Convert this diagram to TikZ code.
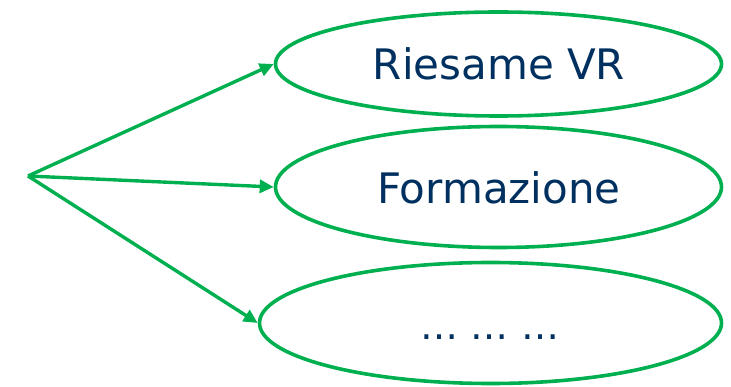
\documentclass[tikz,border=0pt]{standalone}
\usepackage{fontspec}
\setmainfont{DejaVu Sans}
\usetikzlibrary{shapes.geometric,arrows.meta}
\definecolor{lgreen}{HTML}{00B050}
\definecolor{navy}{HTML}{00305F}
\begin{document}
\begin{tikzpicture}[x=1pt,y=-1pt,
  oval/.style={ellipse,draw=lgreen,line width=3.6pt,inner sep=0pt},
  lbl/.style={text=navy,font=\fontsize{42}{50}\selectfont,inner sep=0pt},
  conn/.style={draw=lgreen,line width=3.4pt,-{Triangle[length=14pt,width=13pt]}}]
\useasboundingbox (0,0) rectangle (731,387);
\node[oval,minimum width=446pt,minimum height=104pt] (e1) at (498.5,64) {};
\node[oval,minimum width=446pt,minimum height=121pt] (e2) at (498.5,187) {};
\node[oval,minimum width=462pt,minimum height=121pt] (e3) at (490.5,323) {};
\node[lbl] (t1) at (499,64) {Riesame VR};
\node[lbl] (t2) at (499,188) {Formazione};
\node[lbl,font=\fontsize{38}{46}\selectfont,anchor=base] (t3) at (490,340) {… … …};
\coordinate (o) at (28,176);
\draw[conn] (o) -- (e1.west);
\draw[conn] (o) -- (e2.west);
\draw[conn] (o) -- (e3.west);
\end{tikzpicture}
\end{document}
